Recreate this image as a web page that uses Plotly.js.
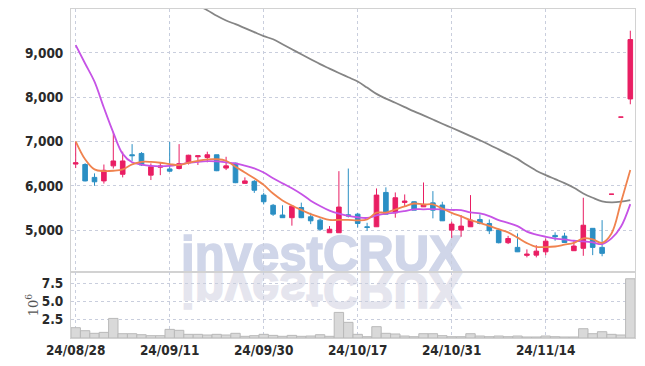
<!DOCTYPE html>
<html><head><meta charset="utf-8">
<script src="https://cdn.plot.ly/plotly-3.0.1.min.js"></script>
<style>
html,body{margin:0;padding:0;background:#fff;width:645px;height:366px;overflow:hidden}
#wm{position:absolute;left:0;top:0;z-index:0}
#chart{position:absolute;left:0;top:0;width:645px;height:366px;z-index:1}
</style></head><body>
<svg id="wm" width="645" height="366">
 <text x="181" y="271" font-family="Liberation Sans, Arial, sans-serif" font-weight="bold" font-size="50" fill="#d0d6e9" stroke="#d0d6e9" stroke-width="1.6" textLength="281" lengthAdjust="spacingAndGlyphs">investCRUX</text>
 <text x="181" y="273" transform="translate(0,546) scale(1,-1)" font-family="Liberation Sans, Arial, sans-serif" font-weight="bold" font-size="50" fill="#e5e5ee" stroke="#e5e5ee" stroke-width="1.6" textLength="281" lengthAdjust="spacingAndGlyphs">investCRUX</text>
</svg>
<div id="chart"></div>
<script>
var dates = ["24/08/28","24/08/29","24/08/30","24/09/02","24/09/03","24/09/04","24/09/05","24/09/06","24/09/09","24/09/10",
"24/09/11","24/09/12","24/09/13","24/09/19","24/09/20","24/09/23","24/09/24","24/09/25","24/09/26","24/09/27",
"24/09/30","24/10/02","24/10/04","24/10/07","24/10/08","24/10/10","24/10/11","24/10/14","24/10/15","24/10/16",
"24/10/17","24/10/18","24/10/21","24/10/22","24/10/23","24/10/24","24/10/25","24/10/28","24/10/29","24/10/30",
"24/10/31","24/11/01","24/11/04","24/11/05","24/11/06","24/11/07","24/11/08","24/11/11","24/11/12","24/11/13",
"24/11/14","24/11/15","24/11/18","24/11/19","24/11/20","24/11/21","24/11/22","24/11/25","24/11/26","24/11/27"];

var openP = [6490,6480,6190,6110,6450,6260,6700,6730,6240,6420,
6380,6390,6520,6655,6640,6700,6400,6510,6055,6100,
5790,5560,5340,5280,5510,5300,5225,4940,4940,5345,
5360,5075,5075,5850,5390,5625,5640,5525,5615,5565,
5000,5000,5075,5240,5150,5000,4715,4610,4430,4435,
4510,4880,4865,4535,4590,5040,4610,5810,7550,7960];
var highP = [6990,6510,6280,6480,7220,6770,6940,6760,6505,6520,
6990,6940,6700,6680,6770,6700,6655,6520,6190,6130,
5840,5590,5560,5545,5620,5390,5265,5090,6330,6390,
5390,5165,5940,5965,5850,5805,5650,6075,5880,5640,
5190,5340,5790,5355,5240,5015,4870,4925,4565,4660,
4810,4950,4940,4775,5730,5040,5225,5810,7550,9500];
var lowP = [6400,6100,6000,6050,6390,6190,6560,6450,6130,6240,
6310,6370,6480,6470,6530,6330,6355,6060,6050,5840,
5580,5320,5275,5100,5270,5135,4985,4940,4935,5285,
5060,4985,5070,5355,5280,5525,5450,5525,5265,5205,
4825,4850,5070,5130,4910,4700,4685,4505,4385,4385,
4435,4760,4710,4530,4420,4435,4410,5810,7550,7840];
var closeP = [6520,6110,6090,6350,6560,6560,6680,6470,6430,6445,
6330,6500,6690,6677,6700,6340,6450,6070,6110,5900,
5640,5360,5280,5540,5280,5210,5020,5020,5520,5320,
5150,5060,5790,5360,5730,5655,5450,5580,5450,5210,
5135,5090,5225,5150,4985,4715,4810,4510,4458,4525,
4750,4850,4720,4640,5110,4610,4475,5810,7550,9300];

var ma5 = [7005,6600,6370,6332,6339,6370,6483,6540,6540,6520,
6490,6467,6520,6564,6595,6600,6565,6430,6300,6170,
6020,5825,5670,5555,5455,5360,5290,5230,5230,5230,
5220,5240,5395,5395,5465,5535,5600,5578,5580,5485,
5390,5310,5225,5165,5095,5020,4950,4830,4705,4622,
4618,4630,4670,4712,4815,4790,4713,4925,5620,6354];
var ma20 = [9175,8760,8350,7760,7200,6720,6530,6480,6450,6440,
6450,6480,6515,6540,6555,6550,6530,6505,6455,6395,
6300,6170,6055,5945,5815,5665,5545,5440,5370,5320,
5290,5275,5330,5370,5395,5430,5470,5470,5475,5470,
5455,5450,5400,5375,5315,5225,5165,5090,4965,4900,
4850,4810,4790,4760,4745,4722,4684,4812,5075,5587];
var ma60 = [null,null,null,null,null,null,null,null,null,null,
null,null,null,10070,9963,9837,9731,9647,9557,9467,
9377,9307,9194,9081,8968,8857,8745,8645,8546,8449,
8354,8216,8074,7968,7873,7776,7679,7589,7496,7401,
7309,7216,7122,7027,6927,6821,6715,6607,6467,6341,
6241,6151,6061,5957,5828,5731,5650,5627,5641,5677];

var volume = [1410000,1000000,640000,770000,2680000,590000,590000,450000,320000,320000,
1180000,1050000,500000,500000,410000,500000,410000,640000,230000,320000,
500000,360000,230000,360000,230000,270000,450000,230000,3500000,2140000,
500000,180000,1550000,640000,550000,270000,180000,590000,590000,320000,
180000,180000,590000,270000,180000,270000,180000,270000,140000,140000,
270000,180000,140000,140000,1270000,590000,860000,500000,410000,8100000];

var tickDates = ["24/08/28","24/09/11","24/09/30","24/10/17","24/10/31","24/11/14"];
var volTickVals = [2500000,5000000,7500000];
var volTickText = ["2.5","5.0","7.5"];

var RED = '#e91e63', BLUE = '#2b8fc4';
var tickFont = {family:'DejaVu Sans Condensed, Liberation Sans Narrow, sans-serif', size:13.5, color:'#2a2a2a', weight:'bold'};
var gridC = '#c9cedd', lineC = '#d2d2d2';

var traces = [
 {type:'bar', x:dates, y:volume, xaxis:'x', yaxis:'y2',
  marker:{color:'#d9d9d9', line:{color:'#b9b9b9', width:1}}, hoverinfo:'skip'},
 {type:'candlestick', x:dates, open:openP, high:highP, low:lowP, close:closeP, xaxis:'x', yaxis:'y',
  increasing:{line:{color:RED, width:1}, fillcolor:RED},
  decreasing:{line:{color:BLUE, width:1}, fillcolor:BLUE}, whiskerwidth:0, hoverinfo:'skip'},
 {type:'scatter', mode:'lines', x:dates, y:ma60, xaxis:'x', yaxis:'y', line:{color:'#858585', width:1.8, shape:'spline'}, hoverinfo:'skip'},
 {type:'scatter', mode:'lines', x:dates, y:ma20, xaxis:'x', yaxis:'y', line:{color:'#c653e6', width:1.8, shape:'spline'}, hoverinfo:'skip'},
 {type:'scatter', mode:'lines', x:dates, y:ma5, xaxis:'x', yaxis:'y', line:{color:'#f0834f', width:1.8, shape:'spline'}, hoverinfo:'skip'}
];

var layout = {
 width:645, height:366,
 margin:{l:71, r:10, t:9, b:28},
 paper_bgcolor:'rgba(0,0,0,0)', plot_bgcolor:'rgba(0,0,0,0)',
 showlegend:false, bargap:0,
 xaxis:{type:'category', range:[-0.5,59.5], tickvals:tickDates, ticktext:tickDates, anchor:'y2',
  showgrid:true, gridcolor:gridC, griddash:'dot', gridwidth:1,
  showline:true, linecolor:lineC, linewidth:1, mirror:'all', ticks:'', tickfont:tickFont,
  rangeslider:{visible:false}, fixedrange:true},
 yaxis:{domain:[0.2,1], range:[4050,9990], dtick:1000, tick0:0, tickformat:',d',
  showgrid:true, gridcolor:gridC, griddash:'dot', gridwidth:1, zeroline:false,
  showline:true, linecolor:lineC, linewidth:1, mirror:true, ticks:'', tickfont:tickFont, ticklabelstandoff:4},
 yaxis2:{domain:[0,0.2], range:[0,9000000], tickvals:volTickVals, ticktext:volTickText,
  showgrid:true, gridcolor:gridC, griddash:'dot', gridwidth:1, zeroline:false,
  showline:true, linecolor:lineC, linewidth:1, mirror:true, ticks:'', tickfont:tickFont, ticklabelstandoff:4,
  title:{text:'10<sup>6</sup>', font:{family:'DejaVu Serif, Liberation Serif, serif', size:13, color:'#555'}, standoff:0}}
};

Plotly.newPlot('chart', traces, layout, {displayModeBar:false, staticPlot:true});
</script>
</body></html>
